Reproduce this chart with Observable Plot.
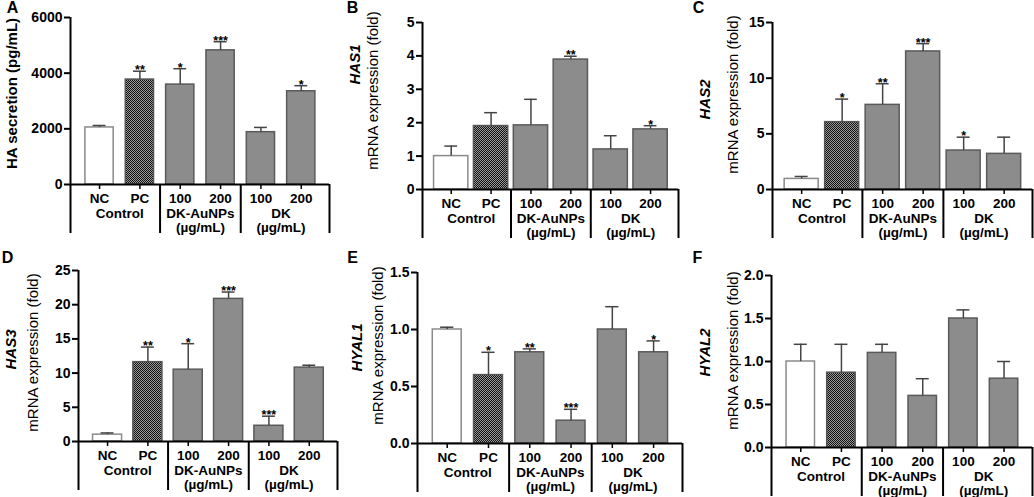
<!DOCTYPE html>
<html><head><meta charset="utf-8">
<script src="https://cdn.jsdelivr.net/npm/d3@7"></script>
<script src="https://cdn.jsdelivr.net/npm/@observablehq/plot@0.6"></script>
<style>
body{margin:0;background:#fff;}
#fig{position:relative;width:1034px;height:497px;overflow:hidden;background:#fff;font-family:"Liberation Sans",Arial,sans-serif;}
#fig svg{position:absolute;}
</style></head><body>
<svg width="0" height="0" style="position:absolute"><defs>
<pattern id="checker" width="2" height="2" patternUnits="userSpaceOnUse">
<rect width="2" height="2" fill="#9a9a9a"/><rect width="1" height="1" fill="#111"/><rect x="1" y="1" width="1" height="1" fill="#111"/>
</pattern></defs></svg>
<div id="fig"></div>
<script>
// ---- shared categories ----
const categories = ["NC", "PC", "100", "200", "100", "200"];
const barTypes = ["open", "hatched", "solid", "solid", "solid", "solid"];
const groupNames = ["Control", "DK-AuNPs", "DK"];
const groupMembers = [[0, 1], [2, 3], [4, 5]];
const groupUnits = ["", "(µg/mL)", "(µg/mL)"];

// ---- A: HA secretion ----
const haMean = [2050, 3770, 3590, 4820, 1880, 3350];
const haErr = [70, 300, 570, 310, 170, 200];
const haStars = ["", "**", "*", "***", "", "*"];
const haTicks = [0, 2000, 4000, 6000];

// ---- B: HAS1 ----
const has1Mean = [1.0, 1.9, 1.92, 3.89, 1.2, 1.8];
const has1Err = [0.3, 0.4, 0.78, 0.1, 0.41, 0.11];
const has1Stars = ["", "", "", "**", "", "*"];
const has1Ticks = [0, 1, 2, 3, 4, 5];

// ---- C: HAS2 ----
const has2Mean = [0.95, 6.05, 7.6, 12.4, 3.5, 3.2];
const has2Err = [0.22, 2.07, 1.9, 0.7, 1.2, 1.5];
const has2Stars = ["", "*", "**", "***", "*", ""];
const has2Ticks = [0, 5, 10, 15];

// ---- D: HAS3 ----
const has3Mean = [1.0, 11.6, 10.5, 20.85, 2.3, 10.8];
const has3Err = [0.25, 2.2, 3.8, 1.0, 1.4, 0.35];
const has3Stars = ["", "**", "*", "***", "***", ""];
const has3Ticks = [0, 5, 10, 15, 20, 25];

// ---- E: HYAL1 ----
const hyal1Mean = [1.0, 0.6, 0.8, 0.2, 1.0, 0.8];
const hyal1Err = [0.02, 0.2, 0.03, 0.1, 0.2, 0.1];
const hyal1Stars = ["", "*", "**", "***", "", "*"];
const hyal1Ticks = [0, 0.5, 1.0, 1.5];

// ---- F: HYAL2 ----
const hyal2Mean = [1.0, 0.87, 1.1, 0.6, 1.5, 0.8];
const hyal2Err = [0.2, 0.33, 0.1, 0.2, 0.1, 0.2];
const hyal2Stars = ["", "", "", "", "", ""];
const hyal2Ticks = [0, 0.5, 1.0, 1.5, 2.0];

const FONT = '"Liberation Sans", Arial, sans-serif';

const panels = [
  {letter: "A", gene: null, label: "HA secretion (pg/mL)", mean: haMean, err: haErr, stars: haStars, ticks: haTicks, fmt: d3.format("d"),
   cell: [0, 0, 345, 250], margin: [17, 16, 66, 70], half: 0.35, labelDx: [null, -58], labelDy: [null, -7.5], letterPos: [12, 1]},
  {letter: "B", gene: "HAS1", label: "mRNA expression (fold)", mean: has1Mean, err: has1Err, stars: has1Stars, ticks: has1Ticks, fmt: d3.format("d"),
   cell: [345, 0, 345, 250], margin: [22, 12, 61, 77], half: 0.43, labelDx: [-67, -49], labelDy: [-41.5, -15.5], letterPos: [352, 1]},
  {letter: "C", gene: "HAS2", label: "mRNA expression (fold)", mean: has2Mean, err: has2Err, stars: has2Stars, ticks: has2Ticks, fmt: d3.format("d"),
   cell: [690, 0, 344, 250], margin: [22, 2, 61, 82], half: 0.42, labelDx: [-67, -39], labelDy: [-6.5, -11.5], letterPos: [698, 1]},
  {letter: "D", gene: "HAS3", label: "mRNA expression (fold)", mean: has3Mean, err: has3Err, stars: has3Stars, ticks: has3Ticks, fmt: d3.format("d"),
   cell: [0, 250, 345, 247], margin: [20, 8, 56, 78], half: 0.36, labelDx: [-67, -45], labelDy: [-6.5, -3.5], letterPos: [7, 251]},
  {letter: "E", gene: "HYAL1", label: "mRNA expression (fold)", mean: hyal1Mean, err: hyal1Err, stars: hyal1Stars, ticks: hyal1Ticks, fmt: d3.format(".1f"),
   cell: [345, 250, 345, 247], margin: [22, 8, 54, 72], half: 0.35, labelDx: [-60, -39], labelDy: [-10.5, -12.5], letterPos: [352, 251]},
  {letter: "F", gene: "HYAL2", label: "mRNA expression (fold)", mean: hyal2Mean, err: hyal2Err, stars: hyal2Stars, ticks: hyal2Ticks, fmt: d3.format(".1f"),
   cell: [690, 250, 344, 247], margin: [25, 2, 50, 81], half: 0.35, labelDx: [-66, -38], labelDy: [-9, -11], letterPos: [697, 251]}
];

function drawPanel(cfg) {
  const n = categories.length;
  const rows = categories.map((c, i) => ({i, cat: c, type: barTypes[i], mean: cfg.mean[i], err: cfg.err[i], star: cfg.stars[i]}));
  const groups = groupNames.map((g, k) => ({name: g, unit: groupUnits[k], x: d3.mean(groupMembers[k])}));
  const xMin = -0.72, xMax = n - 1 + 0.7;
  const dividers = [xMin, xMax];
  for (let k = 0; k < groupMembers.length - 1; k++) dividers.push((d3.max(groupMembers[k]) + d3.min(groupMembers[k + 1])) / 2);
  const [cx, cy, W, H] = cfg.cell;
  const [mT, mR, mB, mL] = cfg.margin;
  const hw = cfg.half;
  const cap = 0.16;
  const top = d3.max(cfg.ticks);
  const bar = (type, fill, stroke) => Plot.rectY(rows.filter(d => d.type === type), {
    x1: d => d.i - hw, x2: d => d.i + hw, y: "mean", fill, stroke, strokeWidth: 1.5
  });
  const marks = [
    bar("open", "white", "#8a8a8a"),
    bar("hatched", "url(#checker)", "#555"),
    bar("solid", "#8c8c8c", "#5a5a5a"),
    Plot.ruleX(rows, {x: "i", y1: "mean", y2: d => d.mean + d.err, stroke: "#444", strokeWidth: 1.5}),
    Plot.ruleY(rows, {y: d => d.mean + d.err, x1: d => d.i - cap, x2: d => d.i + cap, stroke: "#444", strokeWidth: 1.5}),
    Plot.text(rows.filter(d => d.star), {x: "i", y: d => d.mean + d.err, text: "star", lineAnchor: "bottom", dy: 3, fontSize: 12.5, fontWeight: "bold", fill: "black"}),
    Plot.axisY({ticks: cfg.ticks, tickFormat: cfg.fmt, tickSize: 6, tickPadding: 2, fontSize: 14, fontWeight: "bold", strokeWidth: 2, label: null, fill: "black"}),
    Plot.axisX({ticks: d3.range(n), tickSize: 5, tickFormat: () => "", strokeWidth: 1.5, label: null}),
    Plot.axisX({ticks: dividers, tickSize: 49, tickFormat: () => "", strokeWidth: 2, label: null}),
    Plot.ruleX([xMin], {stroke: "black", strokeWidth: 2}),
    Plot.ruleY([0], {stroke: "black", strokeWidth: 2}),
    Plot.text(rows, {x: "i", text: "cat", frameAnchor: "bottom", dy: 14, lineAnchor: "middle", fontSize: 13.5, fontWeight: "bold", fill: "black"}),
    Plot.text(groups, {x: "x", text: "name", frameAnchor: "bottom", dy: 29, lineAnchor: "middle", fontSize: 13.5, fontWeight: "bold", fill: "black"}),
    Plot.text(groups.filter(g => g.unit), {x: "x", text: "unit", frameAnchor: "bottom", dy: 43.5, lineAnchor: "middle", fontSize: 13.5, fontWeight: "bold", fill: "black"}),
    Plot.text([cfg.label], {text: d => d, frameAnchor: "left", dx: cfg.labelDx[1], dy: cfg.labelDy[1], rotate: -90, lineAnchor: "middle", textAnchor: "middle",
      fontSize: 15, fontWeight: cfg.gene ? "normal" : "bold", fill: "black"}),
    Plot.text([cfg.letter], {text: d => d, frameAnchor: "top-left", dx: cfg.letterPos[0] - cx - mL, dy: cfg.letterPos[1] - cy - mT,
      textAnchor: "middle", lineAnchor: "top", fontSize: 16, fontWeight: "bold", fill: "black"})
  ];
  if (cfg.gene) {
    marks.push(Plot.text([cfg.gene], {text: d => d, frameAnchor: "left", dx: cfg.labelDx[0], dy: cfg.labelDy[0], rotate: -90, lineAnchor: "middle", textAnchor: "middle",
      fontSize: 15, fontWeight: "bold", fontStyle: "italic", fill: "black"}));
  }
  const svg = Plot.plot({
    width: W, height: H,
    marginTop: mT, marginRight: mR, marginBottom: mB, marginLeft: mL,
    style: {background: "transparent", fontFamily: FONT, overflow: "visible", color: "black"},
    x: {domain: [xMin, xMax], axis: null},
    y: {domain: [0, top], axis: null},
    marks
  });
  svg.style.left = cx + "px";
  svg.style.top = cy + "px";
  svg.style.maxWidth = "none";
  document.getElementById("fig").appendChild(svg);
}

panels.forEach(drawPanel);
</script>
</body></html>
